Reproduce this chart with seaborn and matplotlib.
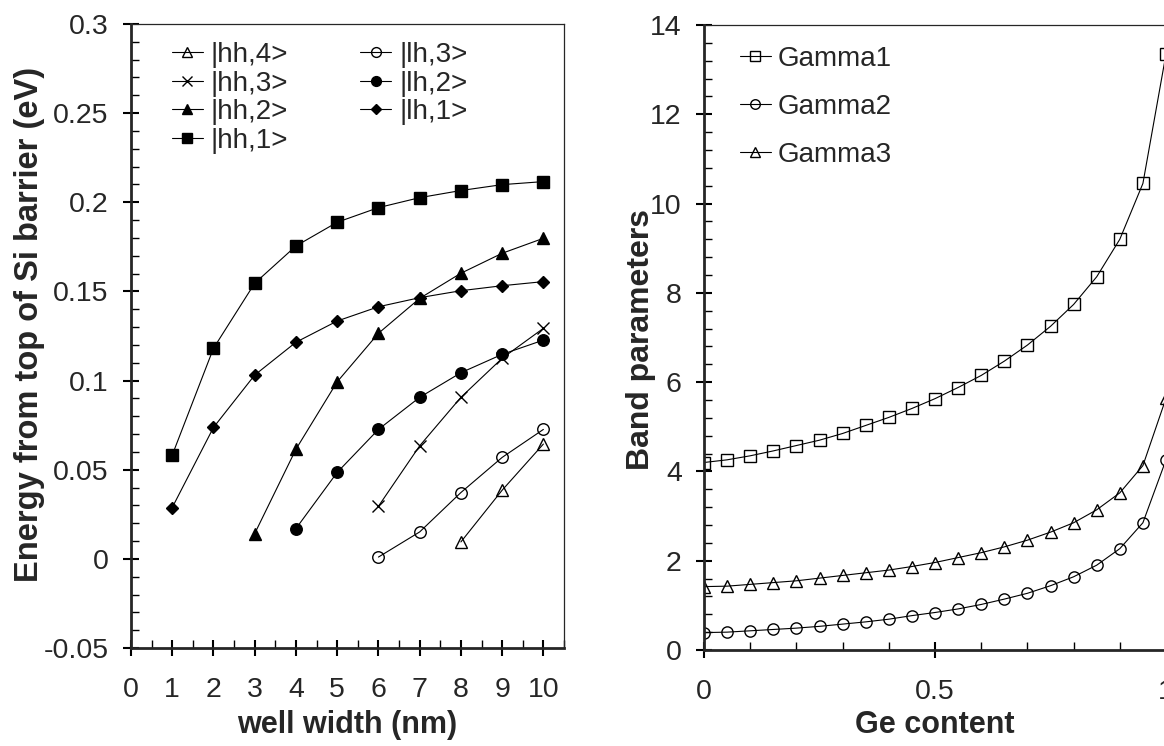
import matplotlib
matplotlib.use("Agg")
import seaborn as sns
import matplotlib.pyplot as plt
from matplotlib.ticker import MultipleLocator

# Left panel: subband energies (eV) vs well width (nm)
width_hh1 = [1, 2, 3, 4, 5, 6, 7, 8, 9, 10]
e_hh1 = [0.0582, 0.1181, 0.1546, 0.1755, 0.1888, 0.1970, 0.2026, 0.2066, 0.2099, 0.2116]
width_hh2 = [3, 4, 5, 6, 7, 8, 9, 10]
e_hh2 = [0.0142, 0.0615, 0.0993, 0.1265, 0.1461, 0.1602, 0.1714, 0.1798]
width_hh3 = [6, 7, 8, 9, 10]
e_hh3 = [0.0295, 0.0634, 0.0906, 0.1125, 0.1293]
width_hh4 = [8, 9, 10]
e_hh4 = [0.0095, 0.0385, 0.0644]
width_lh1 = [1, 2, 3, 4, 5, 6, 7, 8, 9, 10]
e_lh1 = [0.0288, 0.0737, 0.1031, 0.1215, 0.1334, 0.1414, 0.1465, 0.1504, 0.1532, 0.1555]
width_lh2 = [4, 5, 6, 7, 8, 9, 10]
e_lh2 = [0.0170, 0.0485, 0.0726, 0.0906, 0.1044, 0.1147, 0.1227]
width_lh3 = [6, 7, 8, 9, 10]
e_lh3 = [0.0010, 0.0151, 0.0372, 0.0569, 0.0726]

left_xticks = [0, 1, 2, 3, 4, 5, 6, 7, 8, 9, 10]
left_yticks = [-0.05, 0, 0.05, 0.1, 0.15, 0.2, 0.25, 0.3]
left_ylabels = ["-0.05", "0", "0.05", "0.1", "0.15", "0.2", "0.25", "0.3"]

# Right panel: band parameters vs Ge content
ge = [0.0, 0.05, 0.10, 0.15, 0.20, 0.25, 0.30, 0.35, 0.40, 0.45, 0.50,
      0.55, 0.60, 0.65, 0.70, 0.75, 0.80, 0.85, 0.90, 0.95, 1.0]
gamma1 = [4.20, 4.26, 4.35, 4.46, 4.58, 4.70, 4.85, 5.03, 5.21, 5.41, 5.63,
          5.88, 6.15, 6.47, 6.83, 7.25, 7.74, 8.36, 9.20, 10.45, 13.35]
gamma2 = [0.39, 0.40, 0.43, 0.46, 0.49, 0.53, 0.58, 0.63, 0.69, 0.77, 0.84,
          0.92, 1.02, 1.14, 1.27, 1.44, 1.64, 1.90, 2.27, 2.85, 4.26]
gamma3 = [1.42, 1.43, 1.47, 1.51, 1.55, 1.61, 1.67, 1.73, 1.79, 1.87, 1.96,
          2.07, 2.18, 2.31, 2.46, 2.64, 2.85, 3.14, 3.52, 4.13, 5.64]

right_xticks = [0, 0.5, 1]
right_xlabels = ["0", "0.5", "1"]
right_yticks = [0, 2, 4, 6, 8, 10, 12, 14]

sns.set_style("ticks")
plt.rcParams["font.family"] = ["Liberation Sans", "DejaVu Sans"]

TICK_FS = 20.5
LEG_FS = 20
LW = 0.8
MS = 8.3

fig = plt.figure(figsize=(11.64, 7.46), dpi=100)
ax1 = fig.add_axes([131 / 1164, 98 / 746, 433 / 1164, 624 / 746])
ax2 = fig.add_axes([704 / 1164, 96 / 746, 462 / 1164, 625 / 746])


def draw(ax, x, y, label, marker, filled, ms=MS):
    sns.lineplot(x=x, y=y, ax=ax, color="k", lw=LW, marker=marker,
                 markersize=ms, markerfacecolor="k" if filled else "none",
                 markeredgecolor="k", markeredgewidth=1.0,
                 label=label, legend=False)


# left panel
draw(ax1, width_hh4, e_hh4, "|hh,4>", "^", False)
draw(ax1, width_hh3, e_hh3, "|hh,3>", "x", False)
draw(ax1, width_hh2, e_hh2, "|hh,2>", "^", True)
draw(ax1, width_hh1, e_hh1, "|hh,1>", "s", True)
draw(ax1, width_lh3, e_lh3, "|lh,3>", "o", False)
draw(ax1, width_lh2, e_lh2, "|lh,2>", "o", True)
draw(ax1, width_lh1, e_lh1, "|lh,1>", "D", True, ms=5.8)

ax1.set_xlim(0, 10.5)
ax1.set_ylim(-0.05, 0.3)
ax1.set_xticks(left_xticks, labels=[str(t) for t in left_xticks])
ax1.set_yticks(left_yticks, labels=left_ylabels)
ax1.xaxis.set_minor_locator(MultipleLocator(0.5))
ax1.yaxis.set_minor_locator(MultipleLocator(0.01))
ax1.set_xlabel("well width (nm)", fontsize=22, fontweight="bold")
ax1.set_ylabel("Energy from top of Si barrier (eV)", fontsize=23.5, fontweight="bold")
ax1.xaxis.set_label_coords(0.5, -0.099)
ax1.yaxis.set_label_coords(-0.199, 0.518)

h, l = ax1.get_legend_handles_labels()
ax1.legend(h, l, ncol=2, loc="upper left", bbox_to_anchor=(0.095, 0.971),
           frameon=False, fontsize=LEG_FS, borderpad=0, borderaxespad=0,
           handlelength=1.1, handletextpad=0.29, labelspacing=0.09,
           columnspacing=2.6, markerscale=0.85)

# right panel
draw(ax2, ge, gamma1, "Gamma1", "s", False, ms=8.1)
draw(ax2, ge, gamma2, "Gamma2", "o", False, ms=8.1)
draw(ax2, ge, gamma3, "Gamma3", "^", False, ms=8.1)

ax2.set_xlim(0, 1)
ax2.set_ylim(0, 14)
ax2.set_xticks(right_xticks, labels=right_xlabels)
ax2.set_yticks(right_yticks, labels=[str(t) for t in right_yticks])
ax2.xaxis.set_minor_locator(MultipleLocator(0.1))
ax2.yaxis.set_minor_locator(MultipleLocator(0.4))
ax2.set_xlabel("Ge content", fontsize=22, fontweight="bold")
ax2.set_ylabel("Band parameters", fontsize=23, fontweight="bold")
ax2.xaxis.set_label_coords(0.5, -0.096)
ax2.yaxis.set_label_coords(-0.103, 0.497)

ax2.legend(loc="upper left", bbox_to_anchor=(0.078, 0.967), frameon=False,
           fontsize=LEG_FS, borderpad=0, borderaxespad=0, handlelength=1.1,
           handletextpad=0.26, labelspacing=0.8, markerscale=0.85)

for ax in (ax1, ax2):
    for side in ("left", "bottom"):
        ax.spines[side].set_linewidth(2.0)
    for side in ("top", "right"):
        ax.spines[side].set_linewidth(0.9)
    ax.tick_params(which="major", direction="inout", length=12, width=1.5,
                   labelsize=TICK_FS, color="k", top=False, right=False)
    ax.tick_params(which="minor", direction="in", length=5.5, width=1.0,
                   color="k", top=False, right=False)
    ax.tick_params(axis="x", which="major", pad=15)
    ax.tick_params(axis="y", which="major", pad=10)

fig.savefig("out.png", dpi=100)
